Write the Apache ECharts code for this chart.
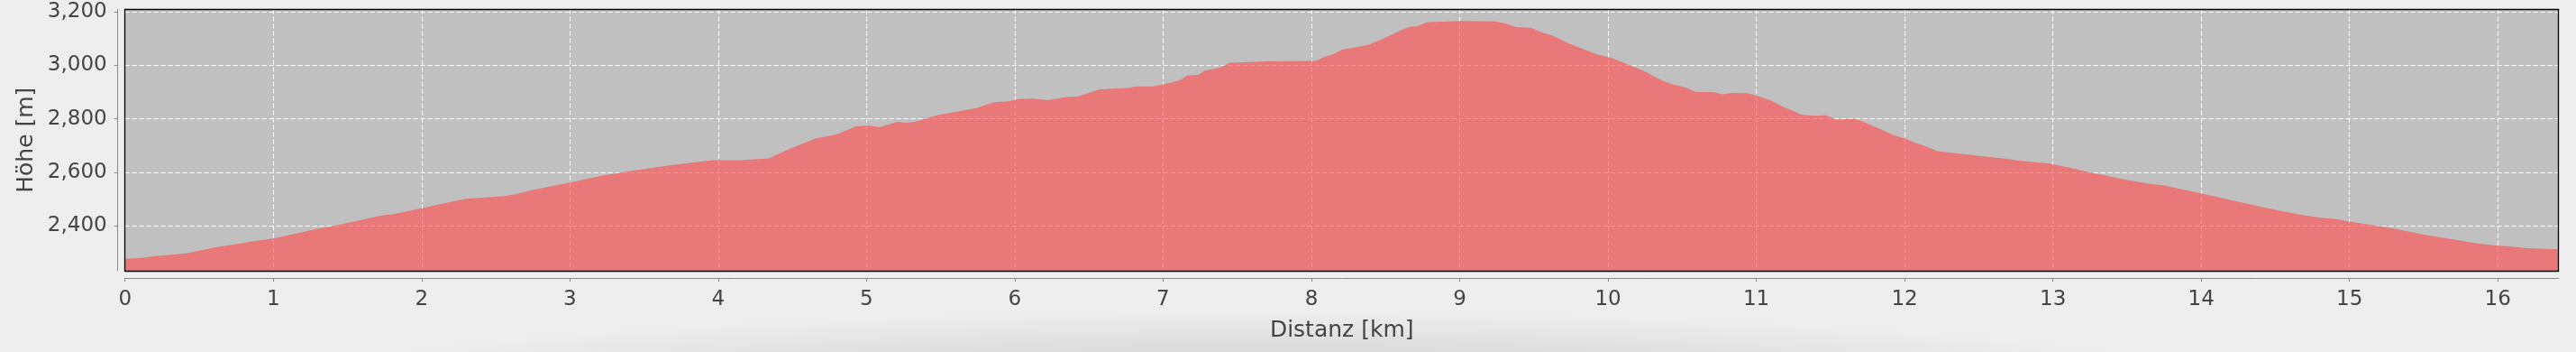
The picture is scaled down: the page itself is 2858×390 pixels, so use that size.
<!DOCTYPE html>
<html>
<head>
<meta charset="utf-8">
<script src="https://cdn.jsdelivr.net/npm/echarts@6/dist/echarts.min.js"></script>
<style>
html,body{margin:0;padding:0;width:2858px;height:390px;overflow:hidden;}
body{background:radial-gradient(ellipse 1050px 75px at 1395px 420px, rgba(0,0,0,0.14), rgba(0,0,0,0) 100%), #eeeeee;}
#c{width:2858px;height:390px;}
</style>
</head>
<body>
<div id="c"></div>
<script>
const distKm = [0,0.11,0.19,0.41,0.61,0.90,1.0,1.12,1.28,1.40,1.53,1.73,1.81,2.0,2.13,2.30,2.56,2.64,2.74,3.0,3.21,3.43,3.67,3.96,4.16,4.34,4.48,4.66,4.79,4.93,5.01,5.09,5.21,5.26,5.33,5.48,5.74,5.86,5.96,6.02,6.12,6.22,6.35,6.43,6.57,6.77,6.81,6.93,7.05,7.12,7.16,7.24,7.28,7.38,7.45,7.70,8.03,8.09,8.15,8.21,8.29,8.39,8.51,8.61,8.67,8.71,8.78,9.02,9.24,9.31,9.38,9.48,9.54,9.63,9.73,9.83,9.93,10.03,10.15,10.25,10.36,10.44,10.52,10.59,10.72,10.77,10.84,10.94,11.02,11.10,11.18,11.31,11.39,11.47,11.54,11.67,11.77,11.92,12.02,12.08,12.14,12.22,12.36,12.57,12.68,12.77,12.97,13.09,13.23,13.51,13.68,13.74,14.0,14.18,14.45,14.65,14.79,14.91,15.0,15.09,15.30,15.50,15.70,15.86,16.0,16.09,16.19,16.41];
const elevM = [2277,2280,2286,2297,2320,2345,2353,2367,2387,2399,2414,2439,2444,2466,2482,2501,2511,2519,2533,2562,2587,2607,2626,2645,2645,2652,2688,2727,2741,2772,2775,2769,2790,2785,2790,2814,2840,2862,2866,2874,2876,2870,2882,2884,2910,2915,2921,2921,2935,2946,2962,2965,2980,2991,3010,3015,3017,3033,3042,3060,3066,3078,3106,3133,3145,3146,3162,3166,3164,3157,3142,3141,3126,3110,3083,3061,3040,3027,3000,2977,2944,2928,2918,2901,2899,2892,2897,2896,2884,2868,2845,2815,2812,2813,2797,2800,2778,2741,2723,2709,2698,2679,2671,2657,2651,2644,2634,2620,2602,2570,2555,2552,2521,2499,2466,2444,2431,2425,2416,2408,2390,2367,2349,2334,2326,2323,2316,2312];
const xMin = 0, xMax = 16.41;
const yMin = 2232, yMax = 3209;
const xName = 'Distanz [km]';
const yName = 'Höhe [m]';

const FONT = 'DejaVu Sans';
const TXT = '#444444';
const chart = echarts.init(document.getElementById('c'), null, {renderer:'canvas'});
const pts = distKm.map((d,i)=>[d, elevM[i]]);
const fmt = v => String(Math.round(v)).replace(/\B(?=(\d{3})+(?!\d))/g, ',');

const borderAxis = (pos, isX) => ({
  type:'value', position: pos, offset:0, min: isX?xMin:yMin, max: isX?xMax:yMax, z:10,
  axisLine:{show:true, onZero:false, lineStyle:{color:'#000', width:1.3}},
  axisTick:{show:false}, axisLabel:{show:false}, splitLine:{show:false}
});

chart.setOption({
  animation:false,
  backgroundColor:'transparent',
  grid:{left:138.7, right:19.3, top:10.5, bottom:90, show:true, backgroundColor:'#c0c0c0', borderWidth:0},
  xAxis:[{
    type:'value', min:xMin, max:xMax, interval:1, position:'bottom', offset:8,
    name:xName, nameLocation:'middle', nameGap:46,
    nameTextStyle:{fontFamily:FONT, fontSize:25, color:TXT},
    axisLine:{show:true, onZero:false, lineStyle:{color:'#888', width:1}},
    axisTick:{show:true, length:4, lineStyle:{color:'#888'}},
    axisLabel:{fontFamily:FONT, fontSize:23, color:TXT, margin:13, showMaxLabel:false},
    splitLine:{show:true, lineStyle:{color:'#ffffff', type:[5,3], width:1}}
  }, borderAxis('top', true), borderAxis('bottom', true)],
  yAxis:[{
    type:'value', min:yMin, max:yMax, minInterval:200, maxInterval:200, position:'left', offset:8,
    name:yName, nameLocation:'middle', nameGap:89,
    nameTextStyle:{fontFamily:FONT, fontSize:25, color:TXT},
    axisLine:{show:true, onZero:false, lineStyle:{color:'#888', width:1}},
    axisTick:{show:true, length:4, lineStyle:{color:'#888'}},
    axisLabel:{fontFamily:FONT, fontSize:23, color:TXT, margin:12, showMinLabel:false, showMaxLabel:false, formatter:fmt},
    splitLine:{show:true, lineStyle:{color:'#ffffff', type:[5,3], width:1}}
  }, borderAxis('left', false), borderAxis('right', false)],
  series:[{
    type:'line', data:pts, xAxisIndex:0, yAxisIndex:0,
    showSymbol:false, symbol:'none',
    lineStyle:{width:0, opacity:0},
    areaStyle:{color:'rgba(255,81,81,0.65)', origin:'start', opacity:1}
  }]
});
</script>
</body>
</html>
